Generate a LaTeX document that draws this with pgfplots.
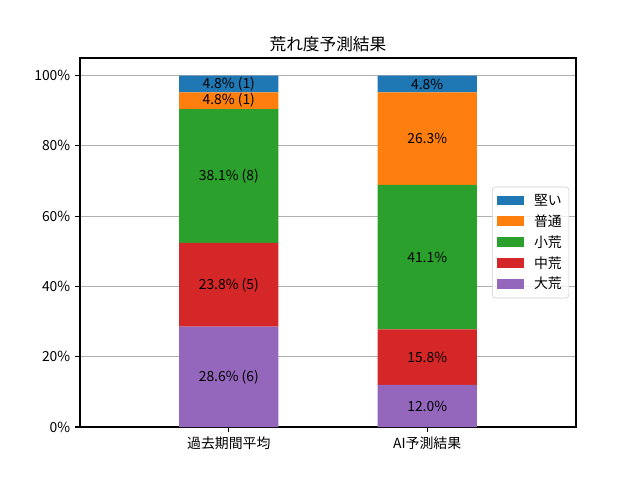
\documentclass[border=0pt]{standalone}
\usepackage{fontspec}
\setmainfont{Noto Sans CJK JP}
\usepackage{pgfplots}
\usepackage{pgfplotstable}
\pgfplotsset{compat=1.18}
\definecolor{tabblue}{HTML}{1F77B4}
\definecolor{taborange}{HTML}{FF7F0E}
\definecolor{tabgreen}{HTML}{2CA02C}
\definecolor{tabred}{HTML}{D62728}
\definecolor{tabpurple}{HTML}{9467BD}
\definecolor{gridgray}{HTML}{B0B0B0}
\definecolor{legframe}{HTML}{CCCCCC}
\pgfplotstableread[col sep=comma]{
x,y,label
0,14.286,{28.6\% (6)}
0,40.476,{23.8\% (5)}
0,71.429,{38.1\% (8)}
0,92.857,{4.8\% (1)}
0,97.619,{4.8\% (1)}
1,6.0,{12.0\%}
1,19.9,{15.8\%}
1,48.35,{41.1\%}
1,82.05,{26.3\%}
1,97.6,{4.8\%}
}\labeltable
\begin{document}
\begin{tikzpicture}
\path[use as bounding box] (0,0) rectangle (460.8pt,345.6pt);
\begin{axis}[
  at={(57.6pt,38.16pt)}, anchor=south west,
  scale only axis, width=357.12pt, height=265.68pt,
  xmin=-0.75, xmax=1.75, ymin=0, ymax=105,
  ybar stacked, bar width=0.5,
  xtick={0,1}, xticklabels={過去期間平均,AI予測結果},
  ytick={0,20,40,60,80,100},
  yticklabels={0\%,20\%,40\%,60\%,80\%,100\%},
  tick pos=left, tick align=outside, major tick length=3.5pt,
  tick style={black, line width=0.8pt},
  axis line style={line width=0.8pt},
  ticklabel style={font=\fontsize{10}{12}\selectfont},
  ymajorgrids, grid style={gridgray, line width=0.8pt},
  title={荒れ度予測結果},
  title style={font=\fontsize{12}{14}\selectfont, yshift=-5pt},
  reverse legend,
  legend style={at={(1,0.5)}, anchor=east, xshift=-5pt,
    draw=legframe, fill=white, fill opacity=0.8, text opacity=1,
    rounded corners=2pt, font=\fontsize{10}{12}\selectfont,
    row sep=1.2pt, inner sep=3pt},
  legend cell align=left,
  legend image code/.code={\fill[#1, fill opacity=1, sharp corners] (0pt,-3.5pt) rectangle (20pt,3.5pt); \path (25pt,0pt);},
]
\addplot[fill=tabpurple, draw=none] coordinates {(0,28.571) (1,12.0)};
\addlegendentry{大荒}
\addplot[fill=tabred, draw=none] coordinates {(0,23.810) (1,15.8)};
\addlegendentry{中荒}
\addplot[fill=tabgreen, draw=none] coordinates {(0,38.095) (1,41.1)};
\addlegendentry{小荒}
\addplot[fill=taborange, draw=none] coordinates {(0,4.762) (1,26.3)};
\addlegendentry{普通}
\addplot[fill=tabblue, draw=none] coordinates {(0,4.762) (1,4.8)};
\addlegendentry{堅い}
\end{axis}
\begin{axis}[
  at={(57.6pt,38.16pt)}, anchor=south west,
  scale only axis, width=357.12pt, height=265.68pt,
  xmin=-0.75, xmax=1.75, ymin=0, ymax=105,
  hide axis, clip=false,
]
\addplot[only marks, mark=none, nodes near coords, point meta=explicit symbolic,
  nodes near coords style={anchor=center, font=\fontsize{10}{12}\selectfont, text=black, inner sep=0pt}]
  table[x=x, y=y, meta=label] {\labeltable};
\end{axis}
\end{tikzpicture}
\end{document}
